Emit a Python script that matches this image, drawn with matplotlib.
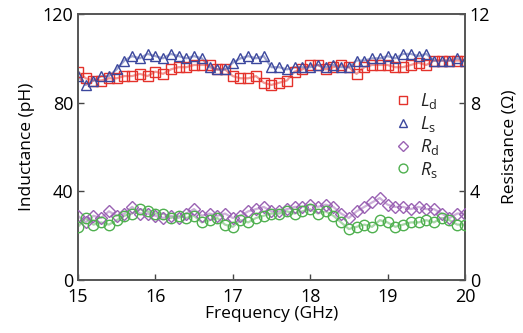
import matplotlib
matplotlib.use('Agg')
import matplotlib.pyplot as plt
import numpy as np

plt.rcParams['font.family'] = ['Open Sans', 'DejaVu Sans']
plt.rcParams['mathtext.fontset'] = 'custom'
plt.rcParams['mathtext.it'] = 'Open Sans:italic'
plt.rcParams['mathtext.rm'] = 'Open Sans'

freq = np.round(np.arange(15.0, 20.01, 0.1), 1)

# inductance (pH)
Ld = [94, 91, 90, 90, 91, 91, 92, 92, 93, 92,
      94, 93, 95, 96, 96, 97, 97, 97, 95, 95,
      92, 91, 91, 92, 89, 88, 89, 90, 94, 95,
      97, 97, 95, 96, 97, 96, 93, 96, 97, 97,
      97, 96, 96, 97, 98, 97, 99, 99, 99, 99, 99]
Ls = [92, 88, 90, 92, 92, 95, 99, 101, 100, 102,
      101, 100, 102, 101, 100, 101, 100, 96, 95, 95,
      98, 100, 101, 100, 101, 96, 96, 95, 96, 96,
      96, 97, 96, 97, 96, 96, 99, 99, 100, 100,
      101, 100, 102, 102, 101, 102, 99, 99, 99, 100, 99]
# resistance (Ohm)
Rd = [2.9, 2.6, 2.9, 2.8, 3.1, 2.9, 3.0, 3.3, 3.0, 3.0,
      2.9, 2.8, 2.9, 2.8, 3.0, 3.2, 2.9, 3.0, 2.9, 3.0,
      2.8, 2.9, 3.1, 3.2, 3.3, 3.1, 3.1, 3.2, 3.3, 3.3,
      3.4, 3.3, 3.4, 3.3, 3.0, 2.8, 3.1, 3.3, 3.5, 3.7,
      3.4, 3.3, 3.3, 3.2, 3.3, 3.2, 3.2, 3.0, 2.8, 3.0, 3.0]
Rs = [2.4, 2.8, 2.5, 2.6, 2.5, 2.7, 2.9, 3.0, 3.2, 3.1,
      3.0, 3.0, 2.8, 2.9, 2.8, 2.9, 2.6, 2.7, 2.8, 2.5,
      2.4, 2.7, 2.6, 2.8, 2.9, 3.0, 3.0, 3.1, 3.0, 3.1,
      3.2, 3.0, 3.1, 2.9, 2.6, 2.3, 2.4, 2.5, 2.4, 2.7,
      2.6, 2.4, 2.5, 2.6, 2.6, 2.7, 2.6, 2.8, 2.7, 2.5, 2.5]

c_ld, c_ls, c_rd, c_rs = '#e4322b', '#3b479d', '#9a62b3', '#4fb04f'

fig = plt.figure(figsize=(5.23, 3.33), dpi=100)
ax = fig.add_axes([0.149, 0.159, 0.740, 0.799])
ax2 = ax.twinx()

handles = []
def series(a, y, m, c, lab, ms):
	a.plot(freq, y, color=c, lw=1.6, alpha=0.5, zorder=2)
	h, = a.plot(freq, y, ls='none', marker=m, ms=ms, mfc='none', mec=c, mew=1.0, label=lab, zorder=3)
	handles.append(h)

series(ax, Ld, 's', c_ld, '$L_\\mathrm{d}$', 7)
series(ax, Ls, '^', c_ls, '$L_\\mathrm{s}$', 7.5)
series(ax2, Rd, 'D', c_rd, '$R_\\mathrm{d}$', 6)
series(ax2, Rs, 'o', c_rs, '$R_\\mathrm{s}$', 7.5)

ax.set_xlim(15, 20)
ax.set_ylim(0, 120)
ax2.set_ylim(0, 12)
ax.set_yticks([0, 40, 80, 120])
ax2.set_yticks([0, 4, 8, 12])
ax.set_xticks([15, 16, 17, 18, 19, 20])
for a in (ax, ax2):
	a.tick_params(direction='in', labelsize=13, length=4, width=1, color='#444444')
	for s in a.spines.values():
		s.set_color('#555555')
		s.set_linewidth(1.2)
ax.tick_params(axis='x', pad=6)
ax.set_xlabel('Frequency (GHz)', fontsize=12.5, labelpad=0)
ax.set_ylabel('Inductance (pH)', fontsize=12.5, labelpad=5)
ax2.set_ylabel('Resistance (Ω)', fontsize=12.5, labelpad=8)

leg = ax2.legend(handles=handles, loc='upper left', bbox_to_anchor=(0.78, 0.77),
	frameon=False, fontsize=13, handlelength=0.8, handletextpad=0.5,
	labelspacing=0.15, markerscale=0.85)
for t in leg.get_texts():
	t.set_color('#222222')

fig.savefig('out.png', dpi=100)
